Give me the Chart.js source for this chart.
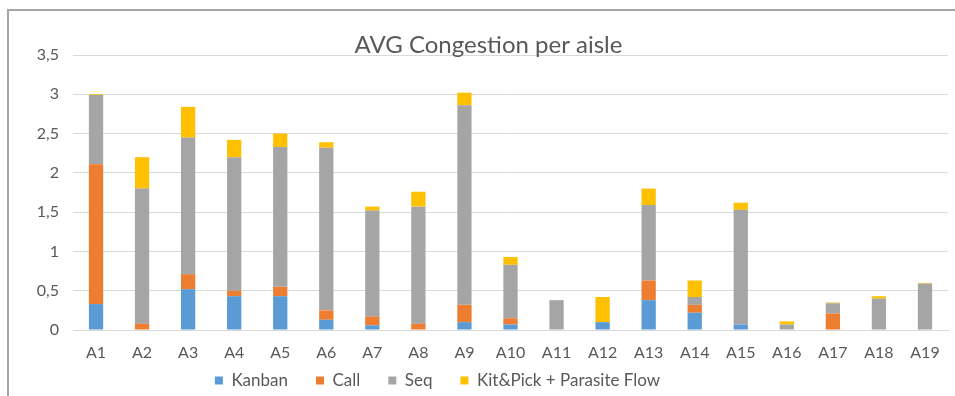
<!DOCTYPE html>
<html>
<head>
<meta charset="utf-8">
<script src="https://cdn.jsdelivr.net/npm/chart.js@4.4.0/dist/chart.umd.min.js"></script>
<style>
    body { margin: 0; background: #fff; }
    #frame {
        position: absolute; left: 7px; top: 9px;
        width: 946px; height: 385px;
        border-top: 2px solid #a6a6a6;
        border-left: 2px solid #a6a6a6;
    }
</style>
</head>
<body>
<div id="frame"><canvas id="congestionChart" width="946" height="385"></canvas></div>
<script>
// 走道名稱
const aisles = ['A1', 'A2', 'A3', 'A4', 'A5', 'A6', 'A7', 'A8', 'A9', 'A10',
    'A11', 'A12', 'A13', 'A14', 'A15', 'A16', 'A17', 'A18', 'A19'];

// 各類別平均壅塞值 (堆疊)
const kanban = [0.33, 0, 0.52, 0.43, 0.43, 0.13, 0.06, 0, 0.10, 0.07, 0, 0.10, 0.38, 0.22, 0.07, 0, 0, 0, 0];
const call = [1.78, 0.08, 0.19, 0.07, 0.12, 0.12, 0.11, 0.08, 0.22, 0.08, 0, 0, 0.25, 0.10, 0, 0, 0.21, 0, 0];
const seq = [0.88, 1.72, 1.74, 1.70, 1.78, 2.07, 1.35, 1.49, 2.54, 0.68, 0.38, 0, 0.96, 0.10, 1.46, 0.07, 0.13, 0.40, 0.59];
const kitPick = [0.01, 0.40, 0.39, 0.22, 0.17, 0.07, 0.05, 0.19, 0.16, 0.10, 0, 0.32, 0.21, 0.21, 0.09, 0.04, 0.01, 0.03, 0.01];

// y 軸刻度
const yTicks = [0, 0.5, 1, 1.5, 2, 2.5, 3, 3.5];

const textColor = '#595959';
const gridColor = '#d9d9d9';
const font = 'Lato, "Open Sans", sans-serif';

// 固定圖例高度, 並移動圖例/標題位置 (跟 Excel 的擺法對齊)
const layoutFix = {
    id: 'layoutFix',
    beforeUpdate(chart) {
        const lg = chart.legend;
        if (!lg || lg._wrapped) return;
        const fit = lg.fit.bind(lg);
        lg.fit = function () {
            fit();
            this.height = 30;
        };
        lg._wrapped = true;
    },
    beforeDraw(chart) {
        const lg = chart.legend;
        if (lg && !lg._shifted) {
            lg.left -= 41;
            lg.right -= 41;
            lg.top -= 22; // bottom 不動, 免得被裁掉
            lg.adjustHitBoxes();
            lg._shifted = true;
        }
        const tb = chart.titleBlock;
        if (tb && !tb._shifted) {
            tb.left += 10;
            tb.right += 10;
            tb._shifted = true;
        }
    }
};

new Chart(document.getElementById('congestionChart'), {
    type: 'bar',
    data: {
        labels: aisles,
        datasets: [
            { label: 'Kanban', data: kanban, backgroundColor: '#5b9bd5' },
            { label: 'Call', data: call, backgroundColor: '#ed7d31' },
            { label: 'Seq', data: seq, backgroundColor: '#a5a5a5' },
            { label: 'Kit&Pick + Parasite Flow', data: kitPick, backgroundColor: '#ffc000' }
        ]
    },
    options: {
        responsive: false,
        animation: false,
        layout: { padding: { left: 0, right: 7, top: 0, bottom: 0 } },
        datasets: {
            bar: { categoryPercentage: 1, barPercentage: 0.31 }
        },
        plugins: {
            title: {
                display: true,
                text: 'AVG Congestion per aisle',
                color: textColor,
                font: { family: font, size: 24, weight: 'normal', lineHeight: 1 },
                padding: { top: 22, bottom: -2 }
            },
            legend: {
                position: 'bottom',
                labels: {
                    color: textColor,
                    font: { family: font, size: 17 },
                    boxWidth: 8,
                    boxHeight: 8,
                    padding: 28
                }
            },
            tooltip: { enabled: false }
        },
        scales: {
            x: {
                stacked: true,
                grid: { display: false, drawTicks: false },
                border: { display: true, color: gridColor, width: 1 },
                ticks: {
                    color: textColor,
                    font: { family: font, size: 16 },
                    padding: 13,
                    maxRotation: 0,
                    autoSkip: false
                },
                afterFit: s => { s.height = 36; }
            },
            y: {
                stacked: true,
                min: 0,
                max: 3.5,
                afterBuildTicks: s => { s.ticks = yTicks.map(v => ({ value: v })); },
                grid: { color: gridColor, drawTicks: false },
                border: { display: false },
                ticks: {
                    color: textColor,
                    font: { family: font, size: 16 },
                    padding: 14,
                    callback: v => String(v).replace('.', ',')
                },
                afterFit: s => { s.width = 64; }
            }
        }
    },
    plugins: [layoutFix]
});
</script>
</body>
</html>
